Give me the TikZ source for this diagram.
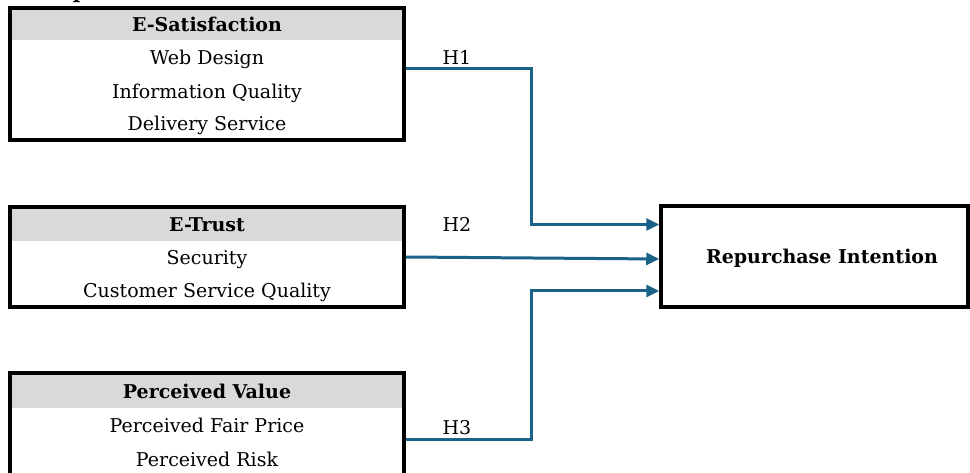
\documentclass[tikz,border=0pt]{standalone}
\usepackage{fontspec}
\setmainfont{DejaVu Serif}
\usetikzlibrary{arrows.meta}
\definecolor{pathblue}{HTML}{1B6288}
\definecolor{headgray}{HTML}{D9D9D9}
\begin{document}
\begin{tikzpicture}[x=1pt,y=-1pt,
  frame/.style={draw=black,line width=3.5pt,inner sep=0pt},
  band/.style={fill=headgray,draw=none,inner sep=0pt,outer sep=0pt},
  item/.style={font=\fontsize{19}{23}\selectfont,inner sep=0pt,anchor=base},
  title/.style={font=\fontsize{19}{23}\selectfont\bfseries,inner sep=0pt,anchor=base},
  link/.style={draw=pathblue,line width=3pt,-{Triangle[length=13pt,width=12pt]}},
  hlabel/.style={font=\fontsize{19}{23}\selectfont,inner sep=0pt,anchor=base}]
\useasboundingbox (0,0) rectangle (970,473);

% heading above the frame
\node[anchor=base west,inner sep=0pt,font=\fontsize{20}{24}\selectfont\bfseries] (heading) at (4,-1) {Conceptual Framework};

% E-Satisfaction
\node[band,minimum width=394pt,minimum height=32pt] (satHead) at (207,24.5) {};
\node[title] (satT) at (207,31.7) {E-Satisfaction};
\node[item] (sat1) at (207,65) {Web Design};
\node[item] (sat2) at (207,98.3) {Information Quality};
\node[item] (sat3) at (207,131) {Delivery Service};
\node[frame,minimum width=394pt,minimum height=132pt] (sat) at (207,74) {};

% E-Trust
\node[band,minimum width=394pt,minimum height=33pt] (trustHead) at (207,224.5) {};
\node[title] (trustT) at (207,232) {E-Trust};
\node[item] (trust1) at (207,265) {Security};
\node[item] (trust2) at (207,298) {Customer Service Quality};
\node[frame,minimum width=394pt,minimum height=100pt] (trust) at (207,257) {};

% Perceived Value
\node[band,minimum width=394pt,minimum height=34pt] (pvHead) at (207,391) {};
\node[title] (pvT) at (207,398) {Perceived Value};
\node[item] (pv1) at (207,432) {Perceived Fair Price};
\node[item] (pv2) at (207,466) {Perceived Risk};
\node[frame,minimum width=394pt,minimum height=120pt] (pv) at (207,433) {};

% Repurchase Intention
\node[frame,minimum width=307pt,minimum height=101pt] (ri) at (814.5,256.5) {};
\node[title] (riT) at (822,264) {Repurchase Intention};

% hypotheses
\draw[link] ([yshift=5pt]sat.east) -| ([xshift=-128pt,yshift=32pt]ri.west) -- ([yshift=32pt]ri.west);
\draw[link] (trust.east) -- ([yshift=-2.5pt]ri.west);
\draw[link] ([yshift=-6pt]pv.east) -| ([xshift=-128pt,yshift=-34.5pt]ri.west) -- ([yshift=-34.5pt]ri.west);

\node[hlabel] (h1) at (457,65) {H1};
\node[hlabel] (h2) at (457,232) {H2};
\node[hlabel] (h3) at (457,434) {H3};
\end{tikzpicture}
\end{document}
